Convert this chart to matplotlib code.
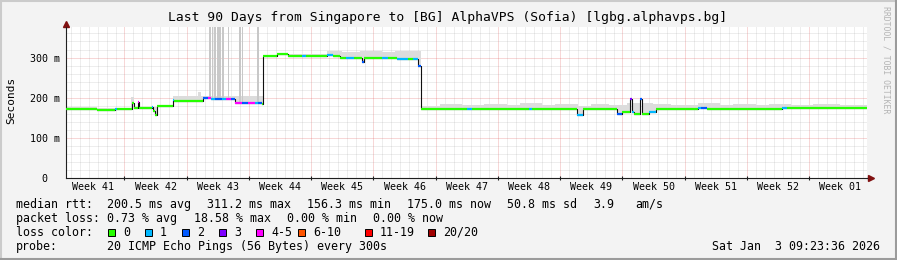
import numpy as np
import matplotlib
matplotlib.use('Agg')
import matplotlib.pyplot as plt
from matplotlib.patches import Rectangle
from matplotlib.lines import Line2D

W, H = 897, 260

# median rtt as steps: start day, value (ms), loss class
med_start = [0.0, 3.45, 5.48, 5.70, 7.39, 7.56, 8.06, 8.23, 9.64, 9.75, 9.97, 10.23,
             12.00, 12.11, 15.37, 15.9, 16.3, 16.72, 17.5, 18.0, 18.5, 18.97, 19.8,
             20.4, 21.2, 21.6, 22.01, 22.15, 23.69, 24.93, 26.5, 27.0, 29.31, 29.99,
             30.78, 31.5, 32.3, 33.25, 33.48, 35.5, 36.2, 37.19, 38.4, 39.0, 39.55,
             39.85, 45.0, 45.6, 52.0, 52.4, 57.43, 58.10, 61.92, 62.49, 63.39, 63.61,
             63.89, 64.51, 64.79, 65.52, 66.31, 71.0, 71.4, 72.0, 80.5, 81.0]
med_ms = [173, 170, 172, 171, 188, 175, 189, 174, 176, 168, 157, 179,
          195, 193, 199, 200, 198, 196, 196, 197, 196, 188, 188,
          188, 188, 187, 185, 304, 310, 303, 303, 303, 307, 304,
          300, 300, 300, 290, 300, 300, 300, 296, 296, 296, 280,
          173, 173, 173, 173, 173, 158, 173, 161, 166, 198, 166,
          160, 196, 160, 166, 173, 174, 175, 173, 174, 174]
med_loss = [0, 0, 1, 0, 0, 0, 4, 0, 1, 0, 0, 0,
            1, 0, 2, 4, 1, 2, 1, 4, 2, 4, 2,
            4, 1, 2, 0, 0, 0, 0, 1, 0, 1, 0,
            0, 1, 0, 2, 0, 1, 0, 1, 0, 1, 2,
            0, 1, 0, 1, 0, 1, 0, 2, 0, 3, 1,
            0, 2, 0, 1, 0, 1, 2, 0, 1, 0]

# smoke (ping spread) upper edge: start day, value (ms)
smoke_start = [0.0, 3.45, 7.3, 7.6, 12.0, 14.8, 15.1, 22.15, 25.0, 29.3, 31.0, 33.0, 35.5, 37.0,
               39.85, 42.0, 44.5, 47.0, 49.5, 51.0, 53.5, 55.0, 57.5, 59.0, 61.0, 63.0,
               66.0, 68.0, 71.0, 73.5, 75.0, 77.5, 79.0, 81.5, 84.0, 87.0]
smoke_top = [176, 174, 202, 178, 204, 215, 204, 307, 309, 316, 313, 317, 314, 316,
             180, 184, 181, 185, 182, 187, 181, 184, 180, 185, 182, 188,
             184, 181, 186, 182, 185, 181, 184, 182, 185, 183]

# tall smoke spikes (start day, end day) reaching the top
spike_start = [16.05, 16.35, 16.65, 16.95, 17.2, 17.5, 18.15, 19.45, 19.72, 21.4]
spike_end = [16.28, 16.55, 16.88, 17.15, 17.4, 17.7, 18.3, 19.65, 19.92, 21.65]

loss_colors = ['#26ff00', '#00b8ff', '#0059ff', '#7e00ff', '#ff00ff', '#ff5500', '#ff0000', '#a00000']
loss_labels = ['0', '1', '2', '3', '4-5', '6-10', '11-19', '20/20']

week_labels = ['Week 41', 'Week 42', 'Week 43', 'Week 44', 'Week 45', 'Week 46', 'Week 47',
               'Week 48', 'Week 49', 'Week 50', 'Week 51', 'Week 52', 'Week 01']
first_week_edge = 6.54
y_ticks = [0, 100, 200, 300]
y_ticklabels = ['0  ', '100 m', '200 m', '300 m']
y_top = 376

rtt_stats = ['200.5 ms avg', '311.2 ms max', '156.3 ms min', '175.0 ms now', '50.8 ms sd', '3.9', 'am/s']
loss_stats = ['0.73 % avg', '18.58 % max', '0.00 % min', '0.00 % now']
probe_text = '20 ICMP Echo Pings (56 Bytes) every 300s'
stamp = 'Sat Jan  3 09:23:36 2026'
title = 'Last 90 Days from Singapore to [BG] AlphaVPS (Sofia) [lgbg.alphavps.bg]'

MONO = 'DejaVu Sans Mono'
plt.rcParams['font.family'] = MONO

fig = plt.figure(figsize=(W / 100, H / 100), dpi=100, facecolor='#f3f3f3')

def px(x, y):
    return x / W, 1 - y / H

ax = fig.add_axes([66.3 / W, (H - 178.3) / H, 800.4 / W, (178.3 - 27) / H])
ax.set_facecolor('white')
ax.set_xlim(0, 90)
ax.set_ylim(0, y_top)

# grid
grid_kw = dict(lw=0.72, ls=(0, (1, 1)), zorder=0.5)
for d in np.arange(first_week_edge - 6, 90, 1.0):
    if d <= 0:
        continue
    major = abs(((d - first_week_edge) / 7) - round((d - first_week_edge) / 7)) < 1e-6
    ax.axvline(d, color='#e05050' if major else '#8f8f8f', alpha=0.45 if major else 0.3, **grid_kw)
for v in range(20, y_top, 20):
    major = v % 100 == 0
    ax.axhline(v, color='#e05050' if major else '#8f8f8f', alpha=0.45 if major else 0.3, **grid_kw)

# smoke
ms = np.array(med_start)
mv = np.array(med_ms, dtype=float)
ss = np.array(smoke_start)
sv = np.array(smoke_top, dtype=float)
xs = np.unique(np.concatenate([ms, ss, [90.0]]))
med_at = mv[np.searchsorted(ms, xs, 'right') - 1]
smk_at = sv[np.searchsorted(ss, xs, 'right') - 1]
ax.fill_between(xs, med_at, np.maximum(smk_at, med_at), step='post', color='#dcdcdc', lw=0, zorder=1)
for s, e in zip(spike_start, spike_end):
    base = mv[np.searchsorted(ms, s, 'right') - 1]
    ax.bar(s, y_top - base, bottom=base, width=e - s, align='edge', color='#c8c8c8', lw=0, zorder=1)

# median: thin dark step line, coloured horizontal parts
ax.step(np.append(ms, 90.0), np.append(mv, mv[-1]), where='post', color='#101010', lw=0.8, zorder=2)
ends = np.append(ms[1:], 90.0)
ax.hlines(mv, ms, ends, colors=[loss_colors[i] for i in med_loss], lw=1.6, zorder=3,
          capstyle='butt')

# axes look
for side in ['top', 'right']:
    ax.spines[side].set_visible(False)
for side in ['left', 'bottom']:
    ax.spines[side].set_color('#202020')
    ax.spines[side].set_linewidth(0.8)
ax.plot([0, 0], [1, 1 + 4 / 151.3], transform=ax.transAxes, color='#202020', lw=0.8, clip_on=False)
ax.plot([1, 1 + 3 / 800.4], [0, 0], transform=ax.transAxes, color='#202020', lw=0.8, clip_on=False)
ax.plot([0], [1 + 3 / 151.3], marker='^', ms=4.5, color='#801010', transform=ax.transAxes, clip_on=False)
ax.plot([1 + 4.5 / 800.4], [0], marker='>', ms=4.5, color='#801010', transform=ax.transAxes, clip_on=False)

ax.set_xticks([first_week_edge - 3.5 + 7 * k for k in range(len(week_labels))])
ax.set_xticklabels(week_labels)
ax.set_xticks([first_week_edge + 7 * k for k in range(12)], minor=True)
ax.tick_params(axis='x', which='major', length=0, pad=3, labelsize=7.2)
ax.tick_params(axis='x', which='minor', length=3, direction='inout', width=0.8, color='#202020')
ax.set_yticks(y_ticks)
ax.set_yticklabels(y_ticklabels)
ax.tick_params(axis='y', length=0, pad=4.5, labelsize=7.2)

# texts
fig.text(*px(447.5, 18), title, ha='center', va='center', fontsize=9.4)
fig.text(*px(11, 100), 'Seconds', ha='center', va='center', rotation=90, fontsize=8)
fig.text(*px(886, 60), 'RRDTOOL / TOBI OETIKER', ha='center', va='center', rotation=-90,
         fontsize=5.9, color='#b4b4b4')

fs = 8.4
fig.text(*px(16, 204.3), 'median rtt:', ha='left', va='center', fontsize=fs)
for xx, t in zip([107.3, 207.3, 306.7, 406.7, 506.7, 593, 635], rtt_stats):
    fig.text(*px(xx, 204.3), t, ha='left', va='center', fontsize=fs)
fig.text(*px(16, 218.3), 'packet loss:', ha='left', va='center', fontsize=fs)
for xx, t in zip([107.3, 194, 286.7, 372.7], loss_stats):
    fig.text(*px(xx, 218.3), t, ha='left', va='center', fontsize=fs)
fig.text(*px(16, 232.3), 'loss color:', ha='left', va='center', fontsize=fs)
box_x = [108, 145, 182.3, 219, 256.3, 298.3, 365, 428.3]
lab_x = [123.3, 160, 197.3, 234, 271, 313, 380, 443]
for bx, lx, c, t in zip(box_x, lab_x, loss_colors, loss_labels):
    fig.add_artist(Rectangle(px(bx, 235.5), 7 / W, 7 / H, transform=fig.transFigure,
                             facecolor=c, edgecolor='black', lw=0.7))
    fig.text(*px(lx, 232.3), t, ha='left', va='center', fontsize=fs)
fig.text(*px(16, 246.3), 'probe:', ha='left', va='center', fontsize=fs)
fig.text(*px(107.3, 246.3), probe_text, ha='left', va='center', fontsize=fs)
fig.text(*px(880, 246.3), stamp, ha='right', va='center', fontsize=fs)

# 3d frame
fig.add_artist(Line2D([0, 1], [1 - 0.5 / H] * 2, transform=fig.transFigure, color='#cbcbcb', lw=1.5))
fig.add_artist(Line2D([0.5 / W] * 2, [0, 1], transform=fig.transFigure, color='#cbcbcb', lw=1.5))
fig.add_artist(Line2D([0, 1], [1 / H] * 2, transform=fig.transFigure, color='#9b9b9b', lw=1.5))
fig.add_artist(Line2D([1 - 1 / W] * 2, [0, 1], transform=fig.transFigure, color='#9b9b9b', lw=1.5))

fig.savefig('out.png', dpi=100, facecolor=fig.get_facecolor())
